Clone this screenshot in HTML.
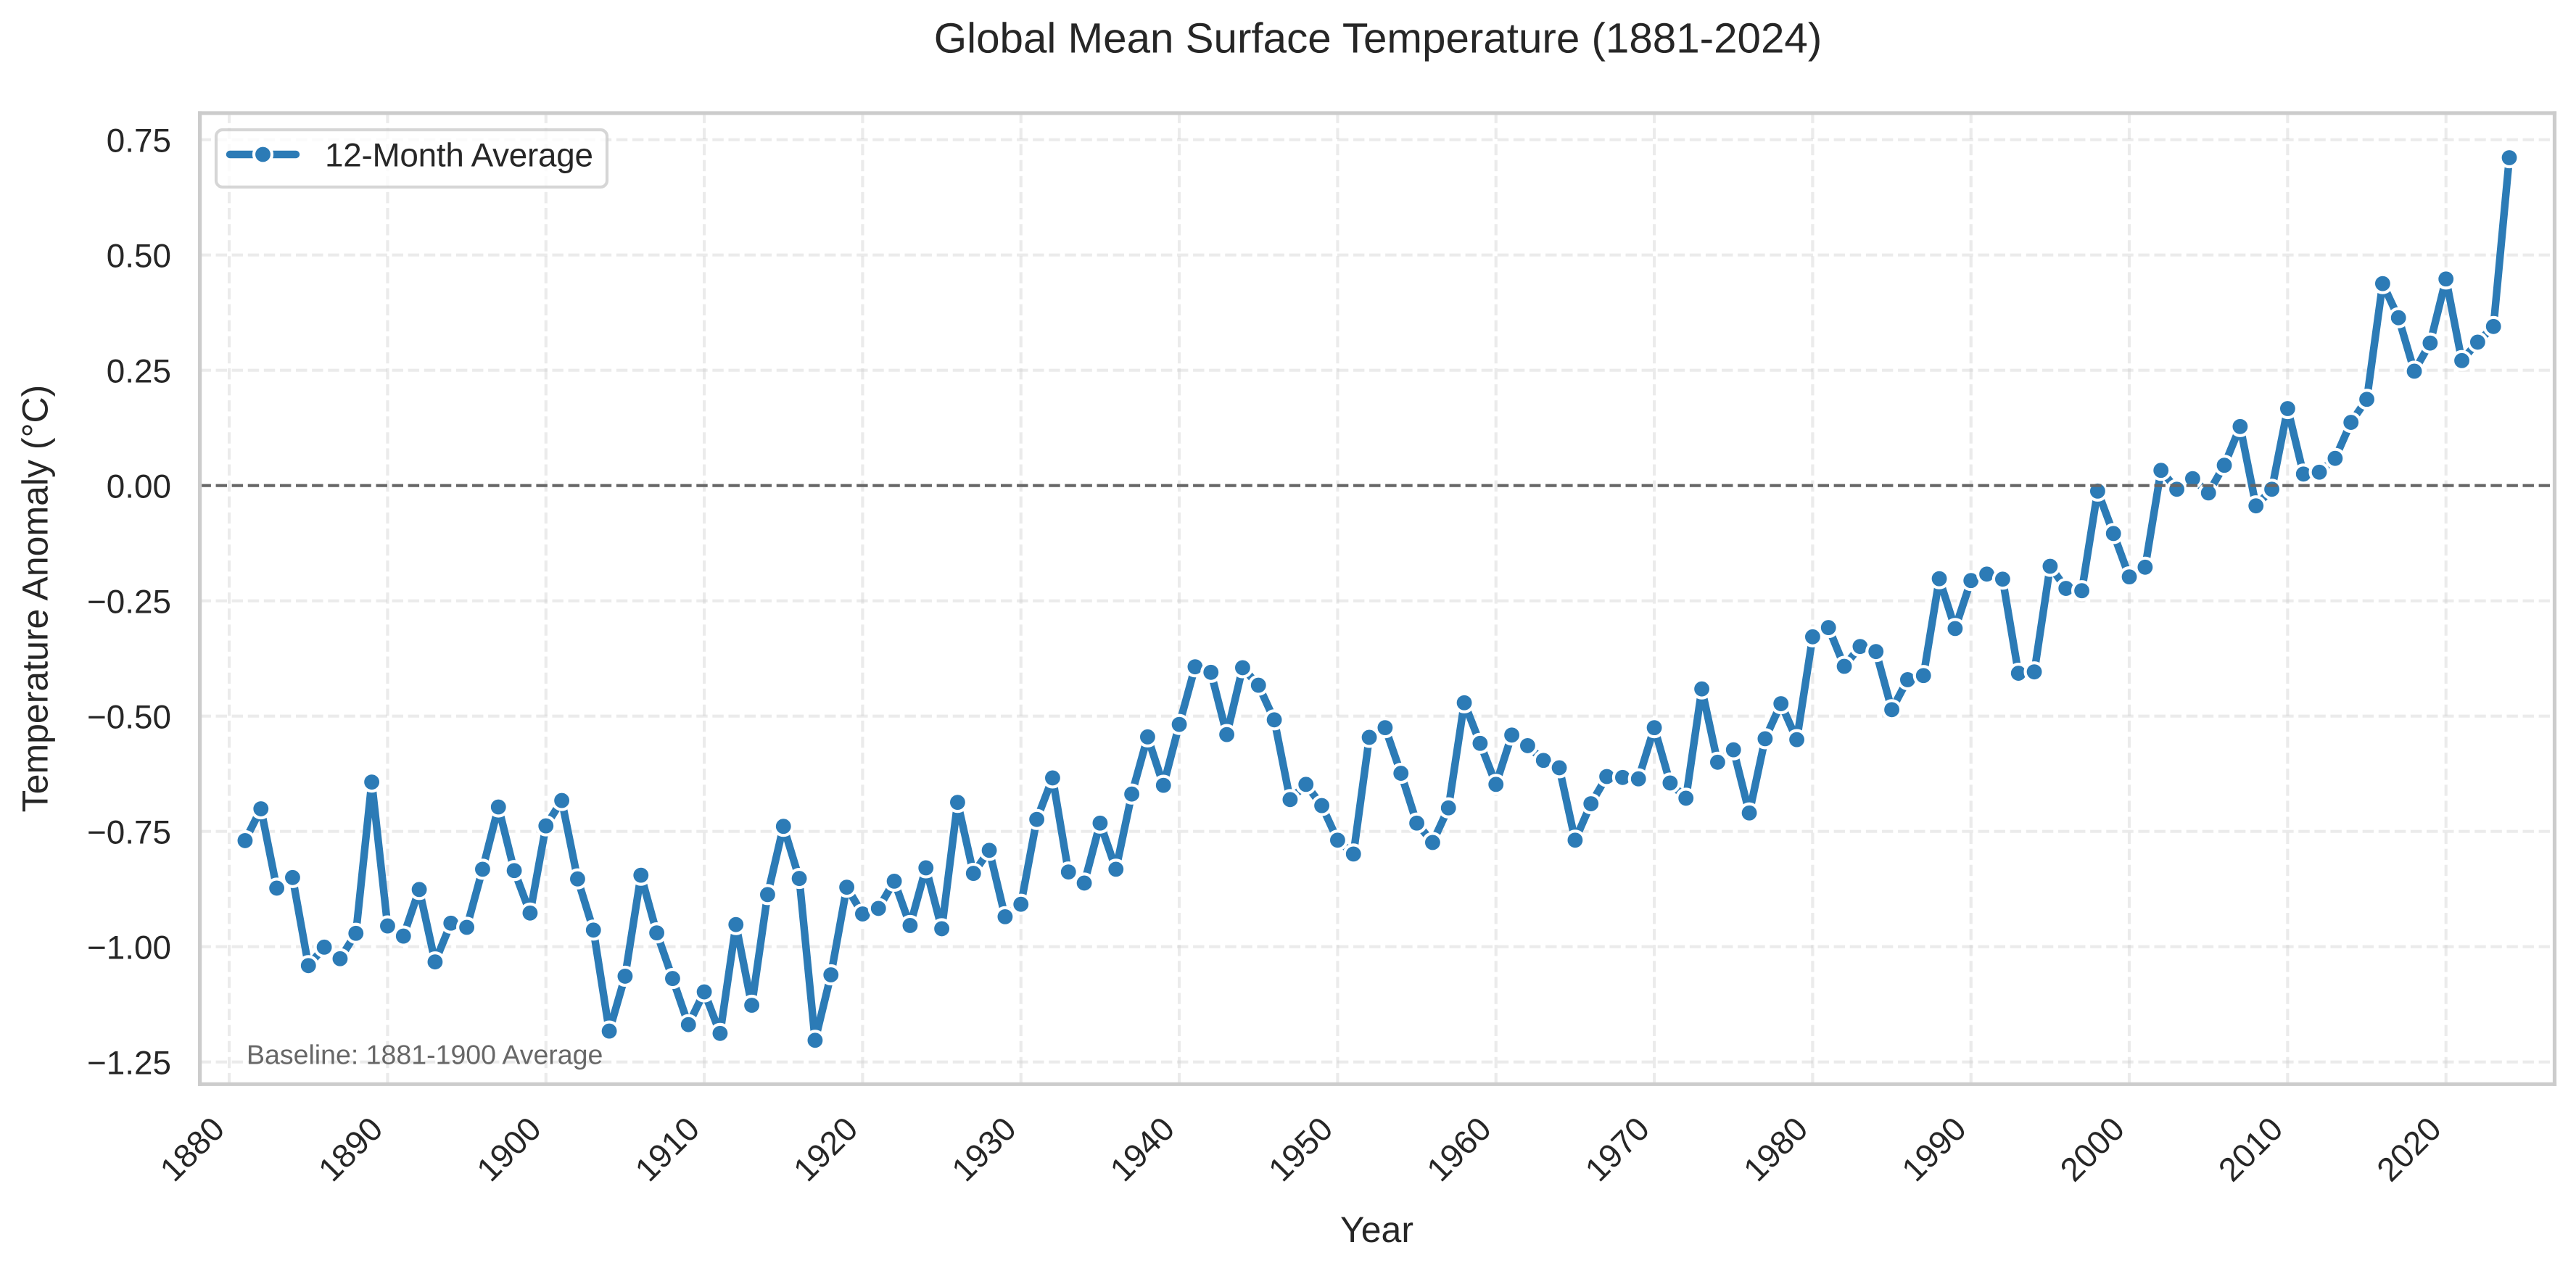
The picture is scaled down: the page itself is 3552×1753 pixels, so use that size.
<!DOCTYPE html>
<html lang="en">
<head>
<meta charset="utf-8">
<title>Global Mean Surface Temperature (1881-2024)</title>
<style>
  html, body { margin: 0; padding: 0; background: #ffffff; }
  svg { display: block; }
  text { font-family: "Liberation Sans", Arial, sans-serif; fill: #262626; text-rendering: geometricPrecision; }
</style>
</head>
<body>
<svg id="chart" xmlns="http://www.w3.org/2000/svg" width="3552" height="1753" viewBox="0 0 3552 1753">
  <rect x="0" y="0" width="3552" height="1753" fill="#ffffff"/>
  <g id="grid"></g>
  <g id="series"></g>
  <g id="zero"></g>
  <g id="yticks"></g>
  <g id="xticks"></g>
  <text x="340" y="1467.7" font-size="37.5" style="fill:#676767">Baseline: 1881-1900 Average</text>
  <text x="1900" y="72.7" font-size="58.33" text-anchor="middle">Global Mean Surface Temperature (1881-2024)</text>
  <text x="1898.5" y="1713" font-size="50" text-anchor="middle">Year</text>
  <text x="0" y="0" font-size="50" text-anchor="middle" transform="translate(65.7 825.5) rotate(-90)">Temperature Anomaly (°C)</text>
  <g>
    <rect x="298" y="179" width="539" height="79" rx="9" ry="9" fill="#ffffff" fill-opacity="0.8" stroke="#cccccc" stroke-opacity="0.8" stroke-width="4.17"/>
    <g>
      <line x1="317" y1="213" x2="408" y2="213" stroke="#2c7bb6" stroke-width="10.42" stroke-linecap="round"/>
      <circle cx="362.5" cy="213" r="12.5" fill="#2c7bb6" stroke="#ffffff" stroke-width="4.17"/>
      <text x="448" y="229.5" font-size="45.83" textLength="370" lengthAdjust="spacing">12-Month Average</text>
    </g>
  </g>
  <g fill="none" stroke="#cccccc" stroke-width="5.2">
    <line x1="275.6" y1="153.4" x2="275.6" y2="1497.9"/>
    <line x1="3522.5" y1="153.4" x2="3522.5" y2="1497.9"/>
    <line x1="273" y1="156" x2="3525.1" y2="156"/>
    <line x1="273" y1="1495.3" x2="3525.1" y2="1495.3"/>
  </g>
</svg>
<script>
const years = [1881,1882,1883,1884,1885,1886,1887,1888,1889,1890,1891,1892,1893,1894,1895,1896,1897,1898,1899,1900,
1901,1902,1903,1904,1905,1906,1907,1908,1909,1910,1911,1912,1913,1914,1915,1916,1917,1918,1919,1920,
1921,1922,1923,1924,1925,1926,1927,1928,1929,1930,1931,1932,1933,1934,1935,1936,1937,1938,1939,1940,
1941,1942,1943,1944,1945,1946,1947,1948,1949,1950,1951,1952,1953,1954,1955,1956,1957,1958,1959,1960,
1961,1962,1963,1964,1965,1966,1967,1968,1969,1970,1971,1972,1973,1974,1975,1976,1977,1978,1979,1980,
1981,1982,1983,1984,1985,1986,1987,1988,1989,1990,1991,1992,1993,1994,1995,1996,1997,1998,1999,2000,
2001,2002,2003,2004,2005,2006,2007,2008,2009,2010,2011,2012,2013,2014,2015,2016,2017,2018,2019,2020,
2021,2022,2023,2024];
const anomalies = [-0.770,-0.701,-0.873,-0.850,-1.041,-1.001,-1.026,-0.971,-0.643,-0.955,-0.977,-0.876,-1.033,-0.949,-0.958,-0.832,-0.697,-0.835,-0.927,-0.738,
-0.683,-0.853,-0.964,-1.183,-1.064,-0.845,-0.970,-1.069,-1.169,-1.098,-1.188,-0.952,-1.127,-0.887,-0.739,-0.852,-1.203,-1.061,-0.871,-0.929,
-0.917,-0.858,-0.954,-0.829,-0.961,-0.687,-0.841,-0.791,-0.935,-0.908,-0.724,-0.634,-0.838,-0.862,-0.732,-0.832,-0.669,-0.545,-0.650,-0.518,
-0.393,-0.405,-0.540,-0.395,-0.433,-0.508,-0.681,-0.648,-0.694,-0.769,-0.799,-0.546,-0.525,-0.624,-0.732,-0.774,-0.699,-0.471,-0.559,-0.648,
-0.541,-0.564,-0.596,-0.612,-0.769,-0.690,-0.631,-0.633,-0.636,-0.525,-0.645,-0.678,-0.441,-0.600,-0.573,-0.710,-0.549,-0.473,-0.551,-0.328,
-0.308,-0.392,-0.349,-0.360,-0.486,-0.421,-0.412,-0.202,-0.310,-0.206,-0.192,-0.203,-0.407,-0.404,-0.175,-0.223,-0.228,-0.012,-0.104,-0.198,
-0.177,0.033,-0.008,0.015,-0.016,0.044,0.128,-0.044,-0.008,0.167,0.025,0.029,0.059,0.137,0.187,0.438,0.364,0.248,0.309,0.448,
0.271,0.311,0.345,0.711];
const xTickValues = [1880,1890,1900,1910,1920,1930,1940,1950,1960,1970,1980,1990,2000,2010,2020];
const yTickValues = [0.75,0.50,0.25,0.00,-0.25,-0.50,-0.75,-1.00,-1.25];
const yTickLabels = ["0.75","0.50","0.25","0.00","\u22120.25","\u22120.50","\u22120.75","\u22121.00","\u22121.25"];

const NS = "http://www.w3.org/2000/svg";
const plot = { left: 275.5, right: 3522.5, top: 156, bottom: 1495.3 };
const xDomain = [1878.14, 2026.86];
const yDomain = [-1.2981, 0.8077];
const lineColor = "#2c7bb6";

function xScale(v) {
  return plot.left + (v - xDomain[0]) / (xDomain[1] - xDomain[0]) * (plot.right - plot.left);
}
function yScale(v) {
  return plot.bottom - (v - yDomain[0]) / (yDomain[1] - yDomain[0]) * (plot.bottom - plot.top);
}
function make(tag, geometry, parent) {
  const el = document.createElementNS(NS, tag);
  for (const k in geometry) el.setAttribute(k, geometry[k]);
  parent.appendChild(el);
  return el;
}

const gridGroup = document.getElementById("grid");
const seriesGroup = document.getElementById("series");
const zeroGroup = document.getElementById("zero");
const yTickGroup = document.getElementById("yticks");
const xTickGroup = document.getElementById("xticks");

xTickValues.forEach(function (t) {
  const gx = make("line", { x1: xScale(t), y1: plot.bottom, x2: xScale(t), y2: plot.top, stroke: "#cccccc", "stroke-opacity": 0.4, "stroke-width": 4.17, "stroke-dasharray": "15.42 6.67" }, gridGroup);
  
  
  const label = make("text", { x: 0, y: 0, "font-size": 45.83, "text-anchor": "end", transform: "translate(" + (xScale(t) - 4) + " 1560) rotate(-45)" }, xTickGroup);
  label.textContent = String(t);
  
  
});

yTickValues.forEach(function (t, i) {
  const gy = make("line", { x1: plot.left, y1: yScale(t), x2: plot.right, y2: yScale(t), stroke: "#cccccc", "stroke-opacity": 0.4, "stroke-width": 4.17, "stroke-dasharray": "15.42 6.67" }, gridGroup);
  
  
  const label = make("text", { x: 236, y: yScale(t) + 16.6, "font-size": 45.83, "text-anchor": "end" }, yTickGroup);
  label.textContent = yTickLabels[i];
  
  
});

const linePoints = years.map(function (yr, i) {
  return xScale(yr).toFixed(2) + "," + yScale(anomalies[i]).toFixed(2);
}).join(" ");
const seriesLine = make("polyline", { points: linePoints, fill: "none", stroke: lineColor, "stroke-width": 10.42, "stroke-linejoin": "round", "stroke-linecap": "round" }, seriesGroup);



years.forEach(function (yr, i) {
  const dot = make("circle", { cx: xScale(yr), cy: yScale(anomalies[i]), r: 12.5, fill: lineColor, stroke: "#ffffff", "stroke-width": 4.17 }, seriesGroup);
  
  
});

const zeroLine = make("line", { x1: plot.left, y1: yScale(0), x2: plot.right, y2: yScale(0), stroke: "#666666", "stroke-width": 4.17, "stroke-dasharray": "15.42 6.67" }, zeroGroup);


</script>
</body>
</html>
